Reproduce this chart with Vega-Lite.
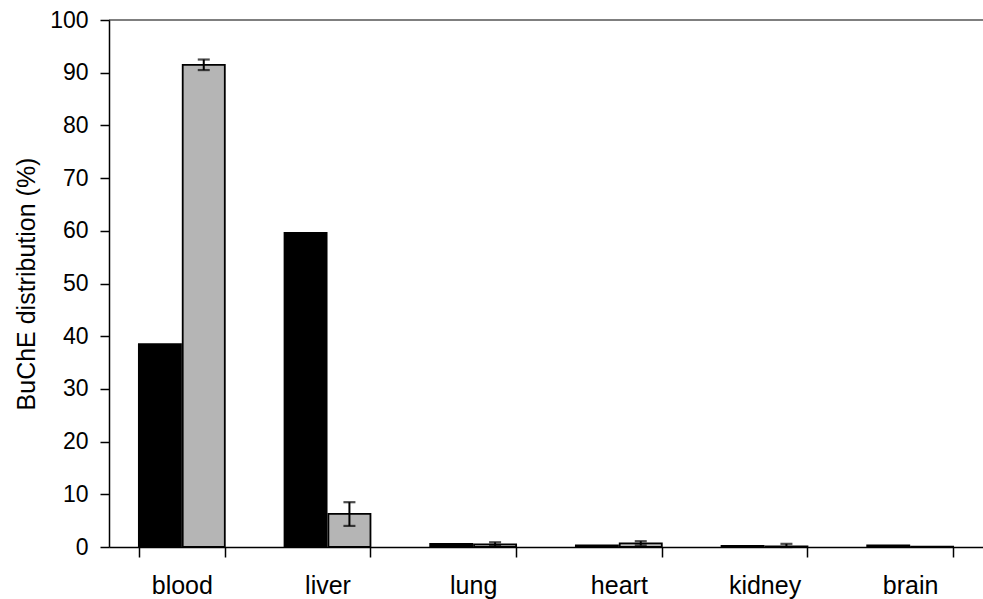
{
  "$schema": "https://vega.github.io/schema/vega-lite/v6.json",
  "width": 874,
  "height": 527,
  "autosize": {"type": "none"},
  "padding": {"left": 109, "top": 20, "right": 0, "bottom": 52},
  "background": "white",
  "config": {
    "view": {"stroke": null},
    "font": "Liberation Sans",
    "axis": {"grid": false, "domainColor": "black", "tickColor": "black", "labelColor": "black", "titleColor": "black", "labelFont": "Liberation Sans", "titleFont": "Liberation Sans"}
  },
  "data": {
    "values": [
      {"organ": "blood", "group": "A", "value": 38.5},
      {"organ": "blood", "group": "B", "value": 91.5, "lo": 90.5, "hi": 92.5},
      {"organ": "liver", "group": "A", "value": 59.6},
      {"organ": "liver", "group": "B", "value": 6.3, "lo": 4.0, "hi": 8.5},
      {"organ": "lung", "group": "A", "value": 0.6},
      {"organ": "lung", "group": "B", "value": 0.5, "lo": 0.2, "hi": 0.9},
      {"organ": "heart", "group": "A", "value": 0.3},
      {"organ": "heart", "group": "B", "value": 0.7, "lo": 0.3, "hi": 1.1},
      {"organ": "kidney", "group": "A", "value": 0.2},
      {"organ": "kidney", "group": "B", "value": 0.1, "lo": 0.0, "hi": 0.6},
      {"organ": "brain", "group": "A", "value": 0.3},
      {"organ": "brain", "group": "B", "value": 0.05}
    ]
  },
  "encoding": {
    "x": {
      "field": "organ", "type": "nominal",
      "sort": ["blood", "liver", "lung", "heart", "kidney", "brain"],
      "scale": {"paddingInner": 0.41, "paddingOuter": 0.205},
      "axis": {"title": null, "labelAngle": 0, "labelFontSize": 25, "labelPadding": 16, "tickBand": "extent", "tickSize": 10, "domainWidth": 1.5, "tickWidth": 1.5}
    },
    "xOffset": {"field": "group", "type": "nominal", "scale": {"paddingInner": 0.04}},
    "y": {
      "field": "value", "type": "quantitative",
      "scale": {"domain": [0, 100], "nice": false},
      "axis": {"title": "BuChE distribution (%)", "titleFontSize": 25, "titleFontWeight": "normal", "titlePadding": 10, "labelFontSize": 23, "labelPadding": 12, "tickSize": 9, "values": [0,10,20,30,40,50,60,70,80,90,100], "domainWidth": 1.5, "tickWidth": 1.5}
    }
  },
  "layer": [
    {
      "mark": {"type": "bar", "stroke": "black", "strokeWidth": 1.8},
      "encoding": {
        "color": {"field": "group", "type": "nominal", "scale": {"domain": ["A", "B"], "range": ["#000000", "#b5b5b5"]}, "legend": null}
      }
    },
    {
      "transform": [{"filter": "isValid(datum.lo)"}],
      "mark": {"type": "rule", "color": "black", "strokeWidth": 2},
      "encoding": {"y": {"field": "lo", "type": "quantitative"}, "y2": {"field": "hi"}}
    },
    {
      "transform": [{"filter": "isValid(datum.lo)"}],
      "mark": {"type": "tick", "color": "black", "thickness": 2.2, "size": 12},
      "encoding": {"y": {"field": "hi", "type": "quantitative"}}
    },
    {
      "transform": [{"filter": "isValid(datum.lo)"}],
      "mark": {"type": "tick", "color": "black", "thickness": 2.2, "size": 12},
      "encoding": {"y": {"field": "lo", "type": "quantitative"}}
    },
    {
      "data": {"values": [{"top": 100}]},
      "mark": {"type": "rule", "color": "black", "strokeWidth": 1.2},
      "encoding": {"y": {"field": "top", "type": "quantitative"}, "x": {"value": 0}, "x2": {"value": 874}, "xOffset": null}
    }
  ]
}
